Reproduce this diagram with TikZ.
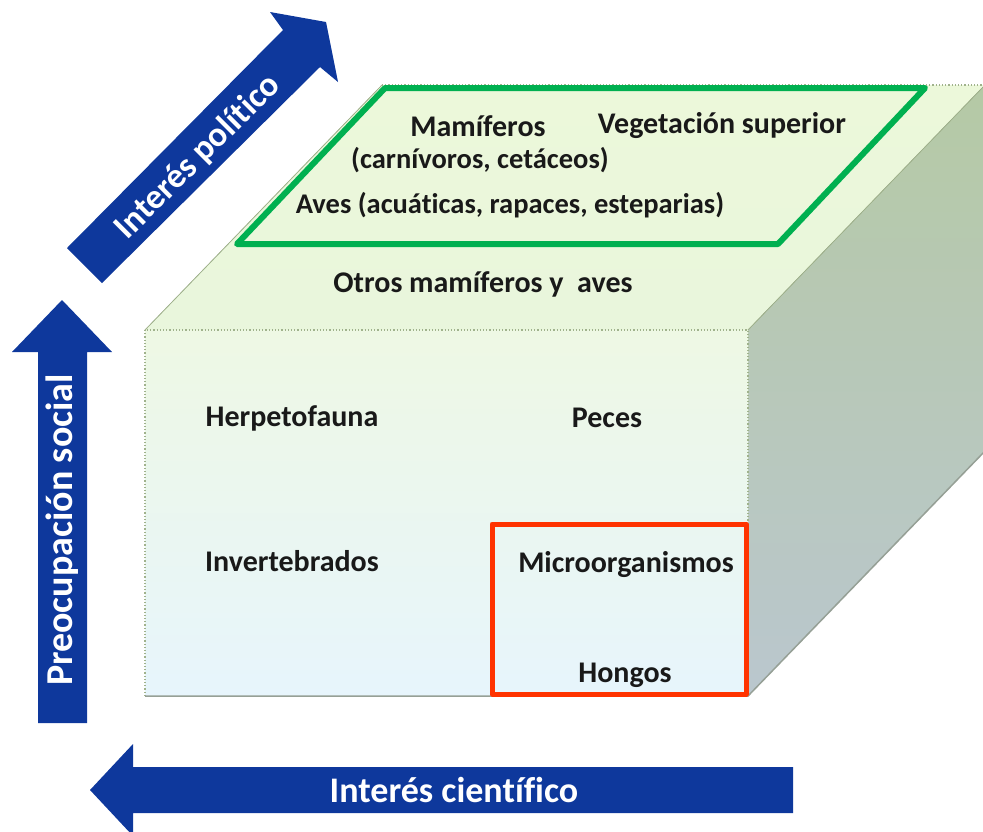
\documentclass[tikz,border=0pt]{standalone}
\usepackage{fontspec}
\setmainfont{Carlito}[Ligatures=NoCommon]
\definecolor{arrowblue}{RGB}{14,56,156}
\definecolor{boxgreen}{RGB}{0,176,80}
\definecolor{boxred}{RGB}{255,51,0}
\definecolor{edgecol}{RGB}{160,178,140}
\definecolor{labelcol}{RGB}{25,25,25}
\begin{document}
\begin{tikzpicture}[x=1pt,y=-1pt,
  lbl/.style={font=\fontsize{30}{32}\selectfont\bfseries, text=labelcol, inner sep=0pt},
  lblsm/.style={font=\fontsize{28.5}{30}\selectfont\bfseries, text=labelcol, inner sep=0pt},
  arrlbl/.style={font=\fontsize{36}{38}\selectfont\bfseries, text=white, inner sep=0pt},
  arrowfill/.style={fill=arrowblue},
  cubeedge/.style={draw=edgecol, line width=1.2pt, dotted}]
\useasboundingbox (0,0) rectangle (983,831);
\clip (0,0) rectangle (983,831);
% cube corners
\coordinate (FTL) at (145,330);
\coordinate (FTR) at (748,330);
\coordinate (FBR) at (748,696);
\coordinate (FBL) at (145,696);
\coordinate (BTL) at (382,85);
\coordinate (BTR) at (985,85);
\coordinate (BBR) at (985,451);
% faces
\fill[top color={rgb,255:red,236;green,248;blue,218}, bottom color={rgb,255:red,233;green,246;blue,220}]
  (FTL) -- (BTL) -- (BTR) -- (FTR) -- cycle;
\fill[top color={rgb,255:red,181;green,201;blue,165}, bottom color={rgb,255:red,186;green,199;blue,206}]
  (FTR) -- (BTR) -- (BBR) -- (FBR) -- cycle;
\fill[top color={rgb,255:red,238;green,248;blue,228}, bottom color={rgb,255:red,231;green,245;blue,252}]
  (FTL) rectangle (FBR);
% edges
\draw[cubeedge] (FBL) -- (FTL) -- (FTR) -- (FBR);
\draw[cubeedge] (BTL) -- (BTR);
\draw[draw=edgecol, line width=0.8pt] (FTL) -- (BTL);
\draw[draw=edgecol, line width=0.8pt] (FTR) -- (BTR);
\draw[draw={rgb,255:red,150;green,160;blue,150}, line width=1.5pt] (FBL) -- (FBR) -- (BBR);
% green parallelogram
\coordinate (G1) at (385,88);
\coordinate (G2) at (925,88);
\coordinate (G3) at (778,244);
\coordinate (G4) at (237,244);
\draw[boxgreen, line width=6pt, line join=round] (G1) -- (G2) -- (G3) -- (G4) -- cycle;
% red rectangle
\draw[boxred, line width=5pt, line join=round] (492,524) rectangle (746,694);
% labels
\node[lbl] (mam) at (478,126) {Mamíferos};
\node[lbl] (veg) at (722,126) {Vegetación superior};
\node[lblsm] (carn) at (480,160) {(carnívoros, cetáceos)};
\node[lblsm] (aves) at (510,205) {Aves (acuáticas, rapaces, esteparias)};
\node[lbl] (otros) at (483,284) {Otros mamíferos y~~aves};
\node[lbl] (herp) at (292,418) {Herpetofauna};
\node[lbl] (peces) at (607,418) {Peces};
\node[lbl] (inv) at (292,561) {Invertebrados};
\node[lbl] (micro) at (626,565) {Microorganismos};
\node[lbl] (hong) at (625,675) {Hongos};
% vertical arrow
\fill[arrowfill] (38,723) -- (38,352) -- (12,352) -- (62,300) -- (112,352) -- (87,352) -- (87,723) -- cycle;
\node[arrlbl, font=\fontsize{38}{40}\selectfont\bfseries, rotate=90] (soc) at (62,530) {Preocupación social};
% horizontal arrow
\fill[arrowfill] (793,767) -- (133,767) -- (133,744) -- (90,790) -- (133,836) -- (133,813) -- (793,813) -- cycle;
\node[arrlbl] (cient) at (454,790) {Interés científico};
% diagonal arrow
\fill[arrowfill] (67,248) -- (283,30) -- (270,12) -- (326,22) -- (338,82) -- (320,67) -- (102,283) -- cycle;
\node[arrlbl, font=\fontsize{35}{37}\selectfont\bfseries, rotate=45] (pol) at (198,157) {Interés político};
\end{tikzpicture}
\end{document}
